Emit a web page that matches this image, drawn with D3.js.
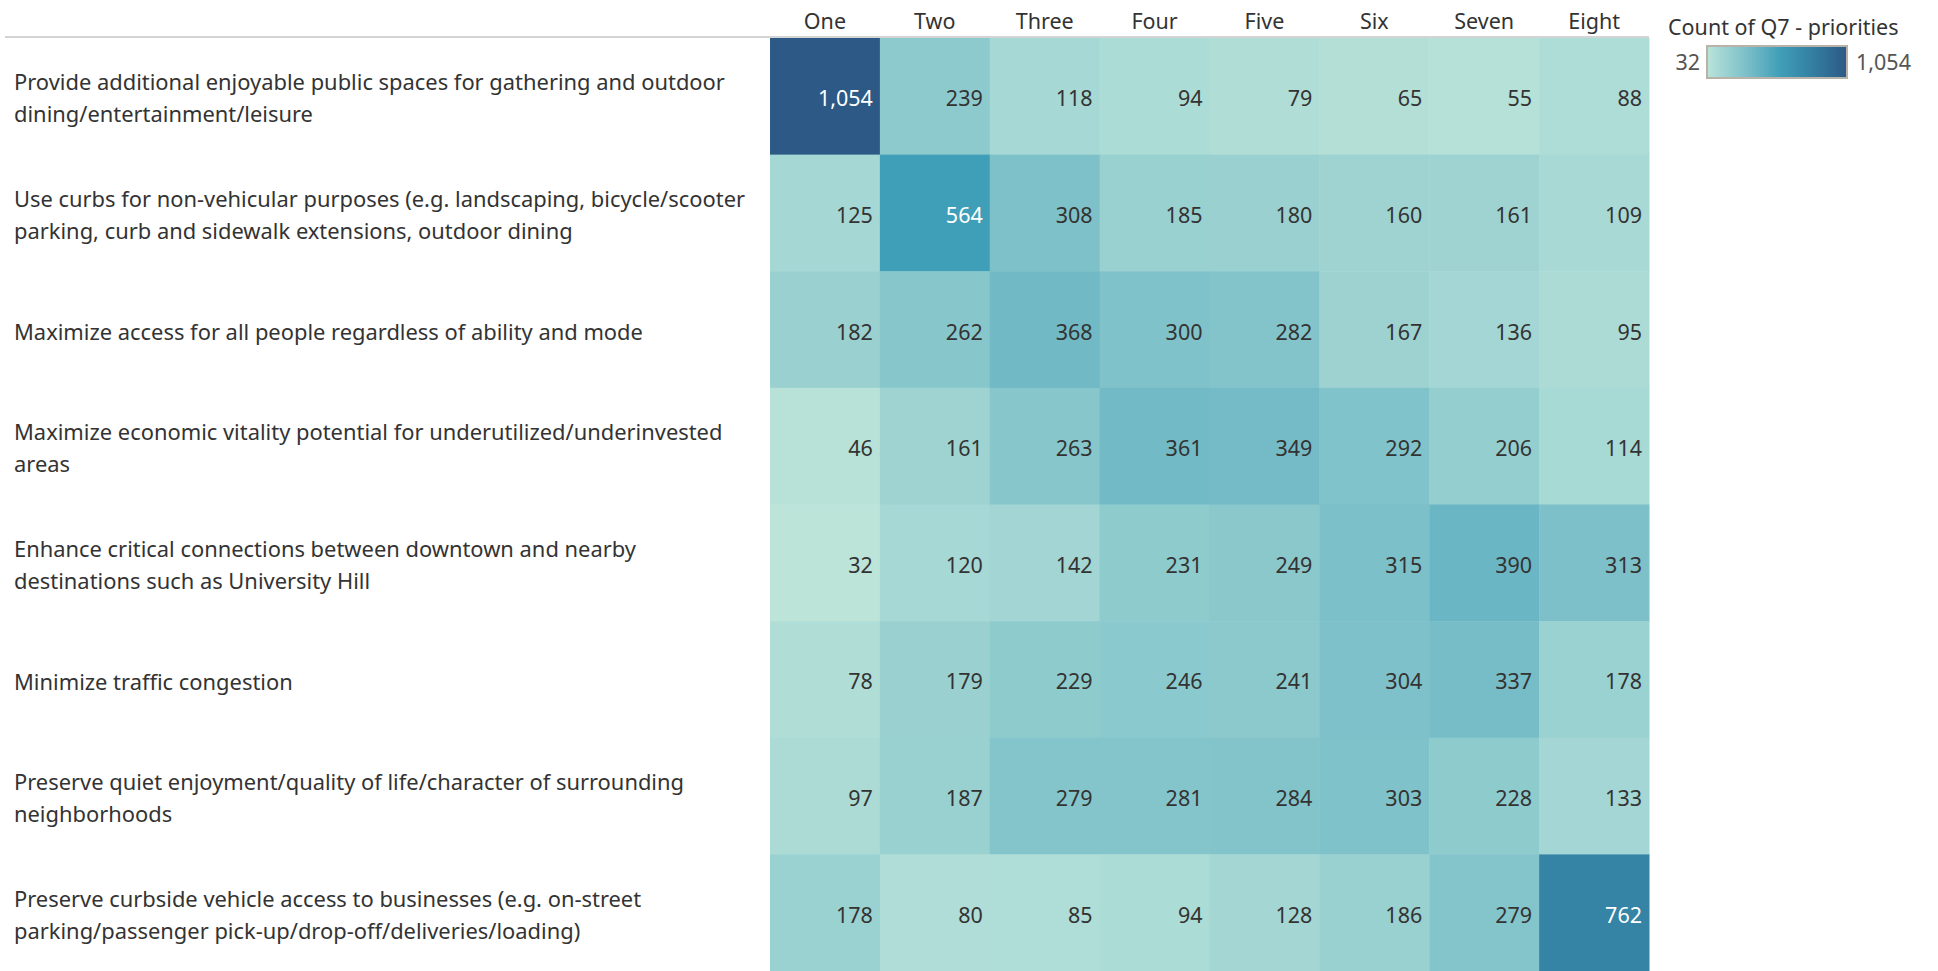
<!DOCTYPE html>
<html><head><meta charset="utf-8">
<script src="https://cdn.jsdelivr.net/npm/d3@7"></script>
<style>
html,body{margin:0;padding:0;background:#fff;}
svg{display:block;font-family:"Noto Sans",sans-serif;}
</style></head>
<body>
<svg id="chart" width="1938" height="971"></svg>
<script>
const columns = ["One","Two","Three","Four","Five","Six","Seven","Eight"];
const rowLabels = [
  ["Provide additional enjoyable public spaces for gathering and outdoor","dining/entertainment/leisure"],
  ["Use curbs for non-vehicular purposes (e.g. landscaping, bicycle/scooter","parking, curb and sidewalk extensions, outdoor dining"],
  ["Maximize access for all people regardless of ability and mode"],
  ["Maximize economic vitality potential for underutilized/underinvested","areas"],
  ["Enhance critical connections between downtown and nearby","destinations such as University Hill"],
  ["Minimize traffic congestion"],
  ["Preserve quiet enjoyment/quality of life/character of surrounding","neighborhoods"],
  ["Preserve curbside vehicle access to businesses (e.g. on-street","parking/passenger pick-up/drop-off/deliveries/loading)"]
];
const values = [
  [1054,239,118,94,79,65,55,88],
  [125,564,308,185,180,160,161,109],
  [182,262,368,300,282,167,136,95],
  [46,161,263,361,349,292,206,114],
  [32,120,142,231,249,315,390,313],
  [78,179,229,246,241,304,337,178],
  [97,187,279,281,284,303,228,133],
  [178,80,85,94,128,186,279,762]
];
const legendTitle = "Count of Q7 - priorities";
const colorStops = [0,0.086,0.15,0.2,0.262,0.35,0.52,0.714,1];
const colorRange = ["#bce4d9","#a6d8d5","#99d0d0","#8ccacd","#80c2ca","#6bb6c4","#409fb8","#3584a6","#2c5985"];

const svg = d3.select("#chart");
const gridLeft = 770, gridRight = 1649, gridTop = 38, gridBottom = 971;
const fmt = d3.format(",");
const allVals = values.flat();
const vmin = d3.min(allVals), vmax = d3.max(allVals);
const FS = 21.5;
const FSL = 21.9;

const x = d3.scaleBand().domain(columns).range([gridLeft, gridRight]);
const y = d3.scaleBand().domain(d3.range(rowLabels.length)).range([gridTop, gridBottom]);
const norm = d3.scaleLinear().domain([vmin, vmax]).range([0,1]);
const colorT = d3.scaleLinear().domain(colorStops).range(colorRange).interpolate(d3.interpolateRgb);
const color = v => colorT(norm(v));

// header line
svg.append("line").attr("x1",5).attr("x2",gridRight).attr("y1",gridTop-1).attr("y2",gridTop-1)
  .attr("stroke","#d4d4d4").attr("stroke-width",2);

// column headers
svg.append("g").selectAll("text").data(columns).join("text")
  .attr("x", d => x(d) + x.bandwidth()/2).attr("y", 21).attr("dy","0.35em")
  .attr("text-anchor","middle").attr("font-size",FS).attr("fill","#333")
  .text(d => d);

// cells
const cells = [];
values.forEach((row,i) => row.forEach((v,j) => cells.push({i, col: columns[j], v})));
svg.append("g").selectAll("rect").data(cells).join("rect")
  .attr("x", d => x(d.col)).attr("y", d => y(d.i))
  .attr("width", x.bandwidth()+0.5).attr("height", y.bandwidth()+0.5)
  .attr("fill", d => color(d.v));

svg.append("g").selectAll("text").data(cells).join("text")
  .attr("x", d => x(d.col) + x.bandwidth() - 7)
  .attr("y", d => y(d.i) + y.bandwidth()/2 + 2.5)
  .attr("dy","0.35em").attr("text-anchor","end").attr("font-size",FS)
  .attr("fill", d => norm(d.v) > 0.45 ? "#ffffff" : "#333333")
  .text(d => fmt(d.v));

// row labels
const rl = svg.append("g").selectAll("text").data(rowLabels).join("text")
  .attr("font-size",FSL).attr("fill","#333");
rl.each(function(lines,i){
  const t = d3.select(this);
  const cy = y(i) + y.bandwidth()/2 + 2.5;
  const n = lines.length;
  lines.forEach((ln,k) => {
    t.append("tspan").attr("x",14).attr("y", cy + (k - (n-1)/2)*32).attr("dy","0.35em").text(ln);
  });
});

// legend
const lg = svg.append("g");
lg.append("text").attr("x",1668).attr("y",27).attr("dy","0.35em").attr("font-size",FS).attr("fill","#333").text(legendTitle);
const defs = svg.append("defs");
const grad = defs.append("linearGradient").attr("id","lgGrad").attr("x1","0%").attr("x2","100%");
grad.selectAll("stop").data(colorStops).join("stop")
  .attr("offset", d => (d*100)+"%").attr("stop-color", (d,i) => colorRange[i]);
const lx0 = 1707, lx1 = 1847, ly0 = 46, ly1 = 78;
lg.append("rect").attr("x",lx0).attr("y",ly0).attr("width",lx1-lx0).attr("height",ly1-ly0)
  .attr("fill","url(#lgGrad)").attr("stroke","#b8b2a8").attr("stroke-width",2);
lg.append("text").attr("x",lx0-7).attr("y",(ly0+ly1)/2).attr("dy","0.35em").attr("text-anchor","end")
  .attr("font-size",FS).attr("fill","#555").text(fmt(vmin));
lg.append("text").attr("x",lx1+9).attr("y",(ly0+ly1)/2).attr("dy","0.35em").attr("text-anchor","start")
  .attr("font-size",FS).attr("fill","#555").text(fmt(vmax));
</script>
</body></html>
